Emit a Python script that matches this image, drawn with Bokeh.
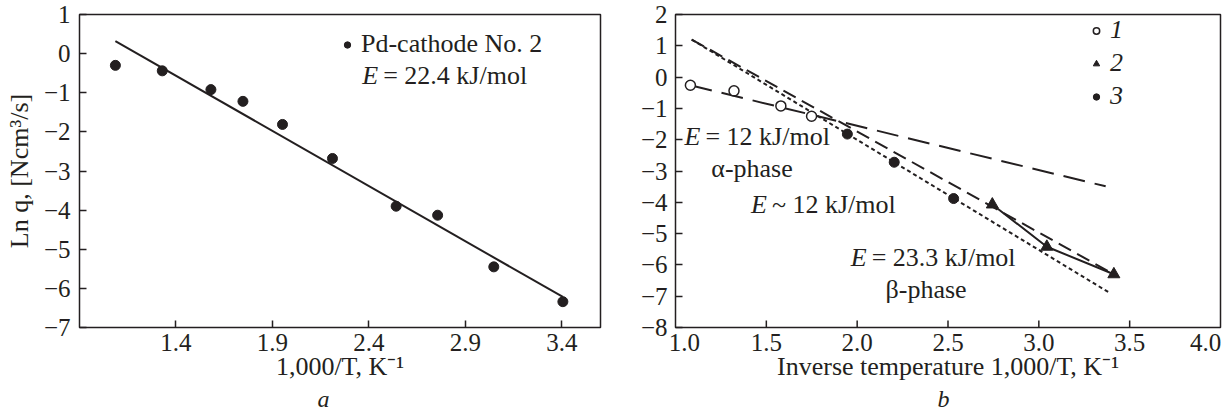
from bokeh.plotting import figure
from bokeh.layouts import row
from bokeh.models import FixedTicker, Label, Legend, LegendItem, Range1d, Title
from bokeh.embed import file_html
from bokeh.resources import INLINE

INK = "#231f20"
FONT = "Liberation Serif"
TICK_FS = "25px"
TXT_FS = "26px"

# ---------------- data: panel a ----------------
a_x = [1.086, 1.329, 1.581, 1.747, 1.952, 2.211, 2.541, 2.756, 3.047, 3.405]
a_y = [-0.30, -0.44, -0.92, -1.22, -1.81, -2.68, -3.90, -4.13, -5.45, -6.34]
a_fit_x = [1.086, 3.405]
a_fit_y = [0.32, -6.22]
a_xticks = [1.4, 1.9, 2.4, 2.9, 3.4]
a_yticks = [-7, -6, -5, -4, -3, -2, -1, 0, 1]

# ---------------- data: panel b ----------------
s1_x = [1.082, 1.322, 1.580, 1.749]          # open circles (1)
s1_y = [-0.26, -0.44, -0.92, -1.25]
s2_x = [2.744, 3.044, 3.413]                 # triangles (2)
s2_y = [-4.07, -5.42, -6.30]
s3_x = [1.946, 2.204, 2.531]                 # filled circles (3)
s3_y = [-1.82, -2.72, -3.88]
alpha_x = [1.082, 3.368]                     # E = 12 kJ/mol, alpha-phase
alpha_y = [-0.26, -3.49]
dash_x = [1.089, 3.413]                      # E ~ 12 kJ/mol
dash_y = [1.20, -6.30]
dot_x = [1.089, 3.386]                       # E = 23.3 kJ/mol, beta-phase
dot_y = [1.20, -6.88]
b_xticks = [1.5, 2.0, 2.5, 3.0, 3.5]
b_xlabels = ["1.0", "1.5", "2.0", "2.5", "3.0", "3.5", "4.0"]
b_xlabel_pos = [1.049, 1.5, 2.0, 2.5, 3.0, 3.5, 3.918]   # edge labels set inward
b_yticks = [-8, -7, -6, -5, -4, -3, -2, -1, 0, 1, 2]


def minus(v):
    return f"{v:g}".replace("-", "\u2212")


def style_axis(ax):
    ax.axis_line_color = None
    ax.major_tick_in = 7
    ax.major_tick_out = 0
    ax.minor_tick_line_color = None
    ax.major_tick_line_color = INK
    ax.major_tick_line_width = 1.5
    ax.major_label_text_font = FONT
    ax.major_label_text_font_size = TICK_FS
    ax.major_label_text_color = INK
    ax.axis_label_text_font = FONT
    ax.axis_label_text_font_size = TXT_FS
    ax.axis_label_text_font_style = "normal"
    ax.axis_label_text_color = INK


def style(p, xt, yt):
    p.grid.visible = False
    p.outline_line_color = INK
    p.outline_line_width = 1.5
    p.background_fill_color = "white"
    p.border_fill_color = "white"
    style_axis(p.xaxis[0])
    style_axis(p.yaxis[0])
    p.xaxis[0].ticker = FixedTicker(ticks=xt)
    p.yaxis[0].ticker = FixedTicker(ticks=yt)
    p.yaxis[0].major_label_overrides = {v: minus(v) for v in yt}
    p.xaxis[0].major_label_standoff = 6
    p.xaxis[0].axis_label_standoff = -2


def text(p, x, y, t, italic=False, dx=0, align="left", baseline="middle", fs=TXT_FS):
    p.add_layout(Label(x=x, y=y, x_offset=dx, text=t, text_font=FONT,
                       text_font_size=fs, text_color=INK,
                       text_font_style="italic" if italic else "normal",
                       text_align=align, text_baseline=baseline))


def sub_title(p, t, offset):
    p.add_layout(Title(text=t, text_font=FONT, text_font_size="24px",
                       text_font_style="italic", text_color=INK,
                       align="left", offset=offset, standoff=0), "below")


# ---------------- panel a ----------------
pa = figure(width=637, height=416, output_backend="svg", toolbar_location=None,
            x_range=Range1d(0.9, 3.6), y_range=Range1d(-7, 1),
            min_border_left=79, min_border_right=37, min_border_top=14,
            min_border_bottom=89)
style(pa, a_xticks, a_yticks)
pa.yaxis[0].major_label_standoff = 9
pa.yaxis[0].axis_label_standoff = 7
pa.yaxis[0].axis_label = "Ln q, [Ncm\u00b3/s]"
pa.xaxis[0].axis_label = "1,000/T, K\u207b\u00b9"

pa.line(a_fit_x, a_fit_y, line_color=INK, line_width=2)
ra = pa.scatter(a_x, a_y, marker="circle", size=10, fill_color=INK, line_color=INK)

leg_a = Legend(items=[LegendItem(label="Pd-cathode No. 2", renderers=[ra])],
               location=(260, 268), padding=0, margin=0, border_line_color=None,
               background_fill_alpha=0, glyph_width=16, glyph_height=29,
               label_height=29, label_standoff=6, label_text_font=FONT,
               label_text_font_size=TXT_FS, label_text_color=INK)
pa.add_layout(leg_a)
text(pa, 2.365, -0.555, "E", italic=True)
text(pa, 2.365, -0.555, "= 22.4 kJ/mol", dx=21)
sub_title(pa, "a", 238)

# ---------------- panel b ----------------
pb = figure(width=585, height=416, output_backend="svg", toolbar_location=None,
            x_range=Range1d(1.0, 4.0), y_range=Range1d(-8, 2),
            min_border_left=35, min_border_right=2, min_border_top=14,
            min_border_bottom=89)
style(pb, b_xlabel_pos, b_yticks)
pb.yaxis[0].major_label_standoff = 8
# x axis: labels only (the two edge labels set inward as in the original)
pb.xaxis[0].major_label_overrides = dict(zip(b_xlabel_pos, b_xlabels))
pb.xaxis[0].major_tick_line_color = None
pb.xaxis[0].axis_label = "Inverse temperature 1,000/T, K\u207b\u00b9"
# inward tick marks at the real tick values
pb.ray(x=b_xticks, y=[pb.y_range.start] * len(b_xticks), length=7,
       length_units="screen", angle=90, angle_units="deg",
       line_color=INK, line_width=1.5)

pb.line(alpha_x, alpha_y, line_color=INK, line_width=2, line_dash="22 10")
pb.line(dash_x, dash_y, line_color=INK, line_width=2, line_dash="14 7")
pb.line(dot_x, dot_y, line_color=INK, line_width=2, line_dash="4 3")
pb.line(s2_x, s2_y, line_color=INK, line_width=2)
r1 = pb.scatter(s1_x, s1_y, marker="circle", size=10, fill_color="white",
                line_color=INK, line_width=1.5)
r2 = pb.scatter(s2_x, s2_y, marker="triangle", size=12, fill_color=INK, line_color=INK)
r3 = pb.scatter(s3_x, s3_y, marker="circle", size=10, fill_color=INK, line_color=INK)

leg_b = Legend(items=[LegendItem(label="1", renderers=[r1]),
                      LegendItem(label="2", renderers=[r2]),
                      LegendItem(label="3", renderers=[r3])],
               location=(413, 216), padding=0, margin=0, spacing=3,
               border_line_color=None, background_fill_alpha=0,
               glyph_width=16, glyph_height=29, label_height=29,
               label_standoff=6, label_text_font=FONT,
               label_text_font_size=TXT_FS, label_text_font_style="italic",
               label_text_color=INK)
pb.add_layout(leg_b)

text(pb, 1.049, -1.905, "E", italic=True)
text(pb, 1.049, -1.905, "= 12 kJ/mol", dx=21)
text(pb, 1.197, -2.91, "\u03b1-phase")
text(pb, 1.415, -4.08, "E", italic=True)
text(pb, 1.415, -4.08, "~ 12 kJ/mol", dx=21)
text(pb, 1.964, -5.77, "E", italic=True)
text(pb, 1.964, -5.77, "= 23.3 kJ/mol", dx=21)
text(pb, 2.156, -6.77, "\u03b2-phase")
sub_title(pb, "b", 262)

layout = row(pa, pb)
open("out.html", "w").write(file_html(layout, INLINE))
